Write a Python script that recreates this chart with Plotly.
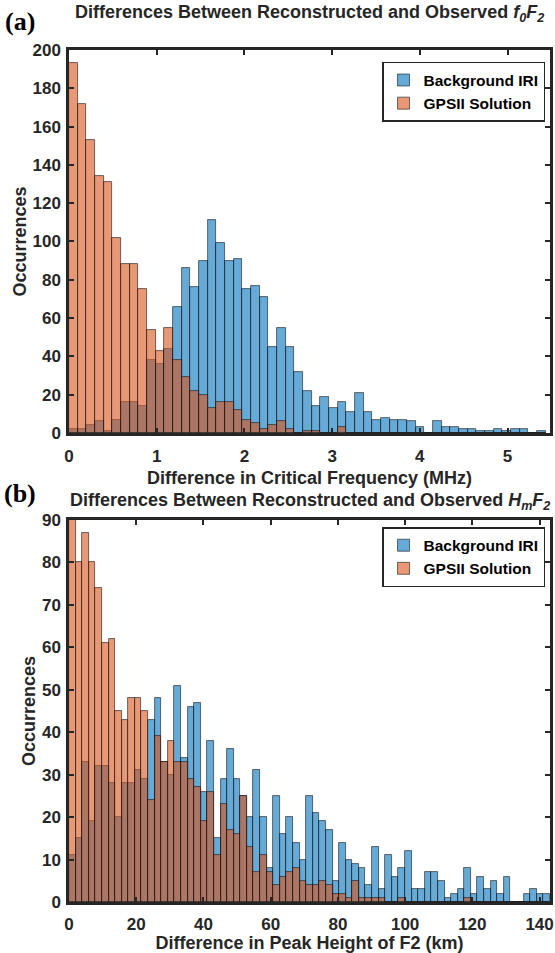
import plotly.graph_objects as go

# ---------------- data ----------------
# Panel (a): |f0F2| differences (MHz), histogram bins starting at 0
fof2_bin_width = 0.0988
fof2_iri = [2, 2, 4, 6, 1, 7, 16, 16, 14, 38, 36, 44, 66, 86, 76, 90, 111, 99, 90, 91,
            75, 77, 71, 45, 55, 45, 32, 22, 14, 19, 13, 16, 11, 21, 11, 7, 8, 7, 7, 6,
            3, 0, 6, 3, 3, 2, 2, 1, 1, 2, 1, 2, 2, 0, 1]
fof2_gps = [193, 172, 153, 134, 131, 102, 88, 88, 75, 54, 43, 55, 38, 29, 22, 20, 13, 16, 16, 12,
            7, 5, 2, 4, 6, 2, 0, 1, 1, 0, 0, 3, 0, 0, 0, 0, 0, 0, 0, 0,
            0, 0, 0, 0, 0, 0, 0, 0, 0, 0, 0, 0, 0, 0, 0]
fof2_xticks = [0, 1, 2, 3, 4, 5]
fof2_yticks = list(range(0, 201, 20))

# Panel (b): |hmF2| differences (km)
hmf2_bin_width = 1.96
hmf2_iri = [11, 15, 33, 19, 32, 32, 28, 20, 28, 28, 31, 29, 43, 48, 33, 30, 51, 34,
            46, 47, 26, 38, 15, 29, 36, 29, 25, 20,
            31, 20, 8, 25, 16, 20, 14, 10, 25, 21, 19, 17,
            5, 14, 10, 9, 8, 4, 13, 3, 11, 6, 8, 12, 3,
            3, 7, 7, 5, 1, 2, 3, 8, 2, 6, 3, 5, 2, 6, 0, 0, 2, 3, 2, 2]
hmf2_gps = [92, 80, 87, 80, 74, 61, 62, 45, 43, 48, 48, 45, 24, 39, 33, 38, 33, 33,
            29, 27, 19, 26, 11, 23, 17, 16, 25, 13,
            7, 11, 7, 4, 6, 7, 8, 5, 4, 4, 5, 4,
            2, 2, 1, 5, 1, 1, 1, 1, 0, 0, 1, 0, 0,
            0, 0, 0, 0, 0, 0, 0, 1, 0, 0, 0, 0, 0, 0, 0, 0, 0, 0, 0, 0]
hmf2_xticks = [0, 20, 40, 60, 80, 100, 120, 140]
hmf2_yticks = list(range(0, 91, 10))

series_names = ["Background IRI", "GPSII Solution"]

# ---------------- style ----------------
FONT = "Liberation Sans, Arial, Helvetica, sans-serif"
AXC = "#262626"
BLUE = "rgba(0,114,189,0.6)"
ORANGE = "rgba(217,83,25,0.6)"
EDGE = "rgba(20,20,20,0.75)"


def centers(n, w):
    return [(i + 0.5) * w for i in range(n)]


fig = go.Figure()

for vals, col, name in [(fof2_iri, BLUE, series_names[0]), (fof2_gps, ORANGE, series_names[1])]:
    fig.add_trace(go.Bar(
        x=centers(len(vals), fof2_bin_width), y=vals, width=fof2_bin_width,
        marker=dict(color=col, line=dict(color=EDGE, width=0.8)),
        name=name, xaxis="x", yaxis="y", legend="legend"))

for vals, col, name in [(hmf2_iri, BLUE, series_names[0]), (hmf2_gps, ORANGE, series_names[1])]:
    fig.add_trace(go.Bar(
        x=centers(len(vals), hmf2_bin_width), y=vals, width=hmf2_bin_width,
        marker=dict(color=col, line=dict(color=EDGE, width=0.8)),
        name=name, xaxis="x2", yaxis="y2", legend="legend2"))

axis_common = dict(
    showline=True, linewidth=2.5, linecolor=AXC, mirror="ticks",
    ticks="inside", ticklen=5, tickwidth=2, tickcolor=AXC,
    showgrid=False, zeroline=False,
    tickfont=dict(family=FONT, size=17, color=AXC, weight="bold"),
)
title_font = dict(family=FONT, size=18, color=AXC, weight="bold")
legend_common = dict(
    xanchor="right", yanchor="top", bgcolor="white", bordercolor=AXC, borderwidth=1.5,
    font=dict(family=FONT, size=15.5, color="black", weight="bold"),
    tracegroupgap=0, itemwidth=30,
)

fig.update_layout(
    width=555, height=953,
    margin=dict(l=69, r=2, t=50, b=51),
    paper_bgcolor="white", plot_bgcolor="white",
    barmode="overlay", bargap=0,
    font=dict(family=FONT, color=AXC),
    xaxis=dict(axis_common, domain=[0, 1], anchor="y", range=[0, 5.484],
               tickvals=fof2_xticks, ticklabelstandoff=6,
               title=dict(text="Difference in Critical Frequency (MHz)", font=title_font, standoff=7)),
    yaxis=dict(axis_common, domain=[0.5505, 1], anchor="x", range=[0, 200],
               tickvals=fof2_yticks, ticklabelstandoff=2,
               title=dict(text="Occurrences", font=title_font, standoff=2)),
    xaxis2=dict(axis_common, domain=[0, 1], anchor="y2", range=[0, 143.1],
                tickvals=hmf2_xticks, ticklabelstandoff=5,
                automargin="bottom", ticklabeloverflow="allow",
                title=dict(text="Difference in Peak Height of F2 (km)", font=title_font, standoff=4)),
    yaxis2=dict(axis_common, domain=[0, 0.4484], anchor="x2", range=[0, 90],
                tickvals=hmf2_yticks, ticklabelstandoff=2,
                title=dict(text="Occurrences", font=title_font, standoff=2)),
    legend=dict(legend_common, x=0.9897, y=0.986),
    legend2=dict(legend_common, x=0.9897, y=0.440),
    annotations=[
        dict(text="Differences Between Reconstructed and Observed <i>f<sub>0</sub>F<sub>2</sub></i>",
             x=0.5, y=1.0423, xref="paper", yref="paper", showarrow=False,
             xanchor="center", yanchor="middle", font=title_font),
        dict(text="Differences Between Reconstructed and Observed <i>H<sub>m</sub>F<sub>2</sub></i>",
             x=0.5, y=0.4705, xref="paper", yref="paper", showarrow=False,
             xanchor="center", yanchor="middle", font=title_font),
        dict(text="(a)", x=-0.101, y=1.0329, xref="paper", yref="paper", showarrow=False,
             xanchor="center", yanchor="middle",
             font=dict(family="Liberation Serif, Times New Roman, serif", size=26, color="black", weight="bold")),
        dict(text="(b)", x=-0.101, y=0.48, xref="paper", yref="paper", showarrow=False,
             xanchor="center", yanchor="middle",
             font=dict(family="Liberation Serif, Times New Roman, serif", size=26, color="black", weight="bold")),
    ],
)

fig.write_html(
    "out.html",
    config={"displayModeBar": False},
    post_script="document.body.style.margin='0';document.body.style.padding='0';"
                "document.body.style.overflow='hidden';",
)
